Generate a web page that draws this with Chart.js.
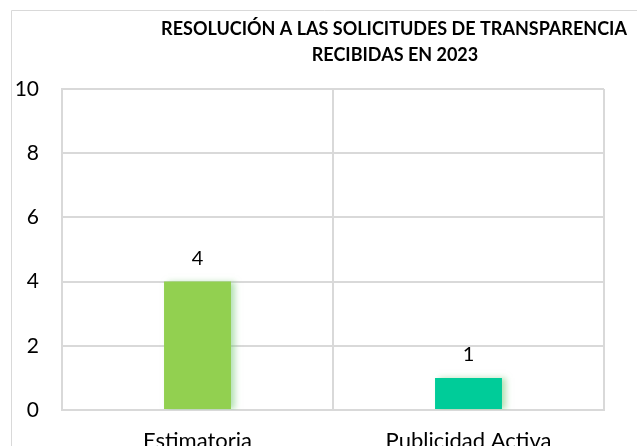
<!DOCTYPE html>
<html>
<head>
<meta charset="utf-8">
<script src="https://cdn.jsdelivr.net/npm/chart.js@4/dist/chart.umd.min.js"></script>
<style>
  html, body { margin: 0; padding: 0; background: #fff; }
  #wrap { width: 637px; height: 446px; position: relative; }
</style>
</head>
<body>
<div id="wrap"><canvas id="myChart"></canvas></div>
<script>
// chart data
const categories = ["Estimatoria", "Publicidad Activa"]
const values = [4, 1]
const bar_colors = ["#92D050", "#00CC99"]
const y_ticks = [0, 2, 4, 6, 8, 10]
const title_lines = ["RESOLUCIÓN A LAS SOLICITUDES DE TRANSPARENCIA", "RECIBIDAS EN 2023"]

const font_family = "Lato, 'Open Sans', sans-serif"
const grid_color = "#d9d9d9"

// outer frame + title, drawn by hand so it can sit off-center like the original
const frame_title = {
    id: "frame_title",
    beforeDraw(chart){
        const ctx = chart.ctx
        ctx.save()
        ctx.strokeStyle = grid_color
        ctx.lineWidth = 1
        ctx.beginPath()
        ctx.moveTo(11.5, 446)
        ctx.lineTo(11.5, 10.5)
        ctx.lineTo(637, 10.5)
        ctx.stroke()

        ctx.fillStyle = "#000"
        ctx.font = "bold 18px " + font_family
        ctx.textAlign = "center"
        ctx.textBaseline = "middle"
        ctx.fillText(title_lines[0], 394, 29)
        ctx.fillText(title_lines[1], 395, 55)
        ctx.restore()
    }
}

// value labels on top of bars
const value_labels = {
    id: "value_labels",
    afterDatasetsDraw(chart){
        const ctx = chart.ctx
        const meta = chart.getDatasetMeta(0)
        ctx.save()
        ctx.fillStyle = "#000"
        ctx.font = "20px " + font_family
        ctx.textAlign = "center"
        ctx.textBaseline = "bottom"
        meta.data.forEach((bar, i) => {
            ctx.fillText(String(values[i]), bar.x, bar.y - 13)
        })
        ctx.restore()
    }
}

// soft glow to the right of the bars
const bar_shadow = {
    id: "bar_shadow",
    beforeDatasetDraw(chart){
        const ctx = chart.ctx
        ctx.save()
        ctx.shadowColor = "rgba(120, 200, 120, 0.55)"
        ctx.shadowBlur = 6
        ctx.shadowOffsetX = 4
        ctx.shadowOffsetY = 0
    },
    afterDatasetDraw(chart){
        chart.ctx.restore()
    }
}

const ctx = document.getElementById('myChart').getContext('2d')

new Chart(ctx, {
    type: 'bar',
    data: {
        labels: categories,
        datasets: [{
            data: values,
            backgroundColor: bar_colors,
            borderWidth: 0,
            categoryPercentage: 1,
            barPercentage: 0.247
        }]
    },
    options: {
        responsive: true,
        maintainAspectRatio: false,
        animation: false,
        layout: {
            padding: { left: 0, top: 89, right: 33, bottom: 0 }
        },
        plugins: {
            legend: { display: false },
            title: { display: false },
            tooltip: { enabled: false }
        },
        scales: {
            x: {
                grid: {
                    display: true,
                    color: grid_color,
                    lineWidth: 2,
                    drawTicks: false,
                    offset: true
                },
                border: { display: true, color: grid_color, width: 2 },
                ticks: {
                    color: "#000",
                    padding: 18,
                    font: { size: 22, family: font_family }
                },
                afterFit(scale){ scale.height = 36 }
            },
            y: {
                min: 0,
                max: 10,
                afterBuildTicks(scale){
                    scale.ticks = y_ticks.map(v => ({ value: v }))
                },
                grid: {
                    color: grid_color,
                    lineWidth: 2,
                    drawTicks: false
                },
                border: { display: true, color: grid_color, width: 2 },
                ticks: {
                    color: "#000",
                    padding: 23,
                    font: { size: 21, family: font_family }
                },
                afterFit(scale){ scale.width = 62 }
            }
        }
    },
    plugins: [frame_title, bar_shadow, value_labels]
})
</script>
</body>
</html>
